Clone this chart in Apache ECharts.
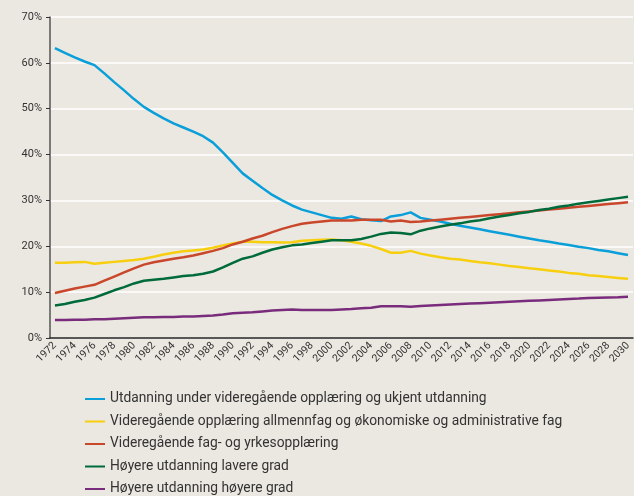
<!DOCTYPE html>
<html>
<head>
<meta charset="utf-8">
<script src="https://cdn.jsdelivr.net/npm/echarts@6/dist/echarts.min.js"></script>
<style>
  html, body { margin: 0; padding: 0; background: #ebe8e1; }
  #chart { width: 634px; height: 496px; }
</style>
</head>
<body>
<div id="chart"></div>
<script>
// år 1972-2030
const years = [];
for (let y = 1972; y <= 2030; y++) years.push(String(y));

const yTicks = ['0%', '10%', '20%', '30%', '40%', '50%', '60%', '70%'];

const seriesNames = [
  'Utdanning under videregående opplæring og ukjent utdanning',
  'Videregående opplæring allmennfag og økonomiske og administrative fag',
  'Videregående fag- og yrkesopplæring',
  'Høyere utdanning lavere grad',
  'Høyere utdanning høyere grad'
];

const underVgs = [63.2, 62.2, 61.2, 60.3, 59.5, 57.7, 55.8, 54.0, 52.1, 50.4,
  49.1, 47.9, 46.8, 45.9, 45.0, 44.0, 42.6, 40.5, 38.2, 35.9,
  34.3, 32.7, 31.2, 30.0, 28.9, 28.0, 27.4, 26.8, 26.2, 26.0,
  26.5, 25.9, 25.7, 25.5, 26.5, 26.8, 27.4, 26.2, 25.8, 25.4,
  24.9, 24.5, 24.1, 23.7, 23.3, 22.9, 22.5, 22.1, 21.7, 21.3,
  21.0, 20.6, 20.3, 19.9, 19.6, 19.2, 18.9, 18.5, 18.1];

const allmennfag = [16.4, 16.4, 16.5, 16.6, 16.2, 16.4, 16.6, 16.8, 17.0, 17.3,
  17.7, 18.2, 18.6, 18.9, 19.1, 19.3, 19.7, 20.2, 20.6, 21.0,
  21.0, 20.9, 20.9, 20.8, 20.9, 21.2, 21.3, 21.4, 21.5, 21.3,
  21.0, 20.6, 20.1, 19.4, 18.6, 18.6, 19.0, 18.4, 18.0, 17.6,
  17.3, 17.1, 16.8, 16.5, 16.3, 16.0, 15.7, 15.5, 15.2, 15.0,
  14.7, 14.5, 14.2, 14.0, 13.7, 13.5, 13.3, 13.1, 12.9];

const yrkesfag = [9.8, 10.3, 10.8, 11.2, 11.6, 12.5, 13.4, 14.3, 15.2, 16.0,
  16.5, 16.9, 17.3, 17.6, 18.0, 18.5, 19.0, 19.6, 20.4, 21.0,
  21.7, 22.3, 23.1, 23.8, 24.4, 24.9, 25.2, 25.4, 25.6, 25.6,
  25.6, 25.8, 25.8, 25.8, 25.4, 25.6, 25.3, 25.4, 25.6, 25.8,
  26.0, 26.2, 26.4, 26.6, 26.8, 27.0, 27.2, 27.4, 27.6, 27.8,
  28.0, 28.2, 28.4, 28.6, 28.8, 29.0, 29.2, 29.4, 29.6];

const lavereGrad = [7.1, 7.4, 7.9, 8.3, 8.8, 9.6, 10.4, 11.1, 11.9, 12.5,
  12.7, 12.9, 13.2, 13.5, 13.7, 14.0, 14.5, 15.4, 16.4, 17.3,
  17.8, 18.6, 19.3, 19.8, 20.2, 20.4, 20.7, 21.0, 21.3, 21.3,
  21.3, 21.6, 22.1, 22.7, 23.0, 22.9, 22.6, 23.4, 23.9, 24.3,
  24.7, 25.0, 25.4, 25.7, 26.1, 26.5, 26.8, 27.2, 27.5, 27.9,
  28.2, 28.6, 28.9, 29.3, 29.6, 29.9, 30.2, 30.5, 30.8];

const hoyereGrad = [3.9, 3.9, 4.0, 4.0, 4.1, 4.1, 4.2, 4.3, 4.4, 4.5,
  4.5, 4.6, 4.6, 4.7, 4.7, 4.8, 4.9, 5.1, 5.4, 5.5,
  5.6, 5.8, 6.0, 6.1, 6.2, 6.1, 6.1, 6.1, 6.1, 6.2,
  6.3, 6.5, 6.6, 6.9, 6.9, 6.9, 6.8, 7.0, 7.1, 7.2,
  7.3, 7.4, 7.5, 7.6, 7.7, 7.8, 7.9, 8.0, 8.1, 8.2,
  8.3, 8.4, 8.5, 8.6, 8.7, 8.8, 8.85, 8.9, 9.0];

const colors = ['#0a9fd9', '#f7cf0f', '#c9472b', '#006b3a', '#7a2c7c'];
const allData = [underVgs, allmennfag, yrkesfag, lavereGrad, hoyereGrad];

const chart = echarts.init(document.getElementById('chart'));
chart.setOption({
  backgroundColor: '#ebe8e1',
  animation: false,
  color: colors,
  textStyle: { fontFamily: 'Roboto, "Liberation Sans", sans-serif' },
  grid: { left: 50, top: 17, width: 584, height: 321, containLabel: false },
  legend: {
    orient: 'vertical',
    left: 85,
    top: 392,
    height: 120,
    padding: 0,
    icon: 'rect',
    itemWidth: 20,
    itemHeight: 2,
    itemGap: 8.5,
    data: seriesNames,
    textStyle: { fontSize: 13.8, color: '#333', lineHeight: 14 }
  },
  xAxis: {
    type: 'category',
    data: years,
    boundaryGap: true,
    axisLine: { lineStyle: { color: '#222', width: 1.5 } },
    axisTick: { interval: 0, length: 4, lineStyle: { color: '#333' } },
    axisLabel: { interval: 1, rotate: 45, fontSize: 10.5, color: '#333', margin: 6 }
  },
  yAxis: {
    type: 'value',
    min: 0,
    max: 70,
    interval: 10,
    axisLine: { show: true, lineStyle: { color: '#555', width: 1.5 } },
    axisTick: { show: true, length: 4, lineStyle: { color: '#333' } },
    axisLabel: {
      fontSize: 11,
      color: '#333',
      margin: 8,
      formatter: function (v) { return yTicks[v / 10]; }
    },
    splitLine: { lineStyle: { color: '#ffffff', width: 1.5 } }
  },
  series: seriesNames.map(function (name, i) {
    return {
      name: name,
      type: 'line',
      data: allData[i],
      showSymbol: false,
      smooth: false,
      lineStyle: { width: 2.5, color: colors[i] }
    };
  })
});
</script>
</body>
</html>
